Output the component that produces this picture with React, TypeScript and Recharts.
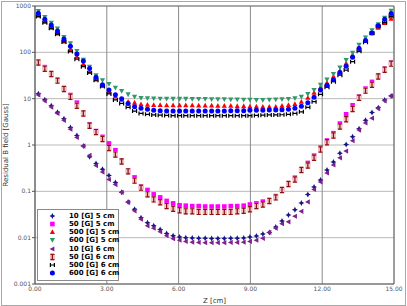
import React from "react";
import {
  CartesianGrid,
  Legend,
  ReferenceLine,
  Scatter,
  ScatterChart,
  XAxis,
  YAxis
} from "recharts";

// measurement positions along the shield axis [cm]
const Z_CM = [
  0.14, 0.41, 0.68, 0.94, 1.21, 1.48, 1.75, 2.02, 2.28, 2.55,
  2.82, 3.09, 3.36, 3.62, 3.89, 4.16, 4.43, 4.7, 4.96, 5.23,
  5.5, 5.77, 6.04, 6.3, 6.57, 6.84, 7.11, 7.38, 7.64, 7.91,
  8.18, 8.45, 8.72, 8.98, 9.25, 9.52, 9.79, 10.06, 10.32, 10.59,
  10.86, 11.13, 11.4, 11.66, 11.93, 12.2, 12.47, 12.74, 13.0, 13.27,
  13.54, 13.81, 14.08, 14.34, 14.61, 14.88
];

// residual field [Gauss]
const B_10G_5CM = [
  12.8, 9.5, 7.0, 5.1, 3.7, 2.4, 1.6, 0.95, 0.56, 0.4,
  0.3, 0.22, 0.156, 0.096, 0.059, 0.041, 0.027, 0.021, 0.018, 0.015,
  0.0123, 0.011, 0.0103, 0.0099, 0.0098, 0.0097, 0.0097, 0.0096, 0.0096, 0.0096,
  0.0097, 0.0097, 0.0098, 0.0103, 0.0108, 0.012, 0.013, 0.017, 0.023, 0.031,
  0.04, 0.056, 0.085, 0.124, 0.175, 0.29, 0.43, 0.66, 1.03, 1.5,
  2.25, 3.4, 5.0, 6.4, 9.4, 11.4
];
const B_50G_5CM = [
  63, 48, 35, 25, 16.7, 12, 8.2, 4.8, 2.8, 2.0,
  1.5, 1.08, 0.77, 0.46, 0.28, 0.2, 0.126, 0.107, 0.086, 0.074,
  0.062, 0.055, 0.05, 0.049, 0.048, 0.048, 0.047, 0.047, 0.047, 0.047,
  0.048, 0.048, 0.049, 0.052, 0.055, 0.06, 0.064, 0.079, 0.11, 0.149,
  0.197, 0.275, 0.41, 0.59, 0.88, 1.25, 1.8, 2.9, 4.6, 7.2,
  11, 16.5, 23, 32, 44, 60
];
const B_500G_5CM = [
  620, 460, 340, 255, 172, 118, 80, 56, 38, 26,
  19, 14, 11.2, 9.5, 8.6, 8.2, 7.6, 7.4, 7.3, 7.3,
  7.2, 7.2, 7.2, 7.2, 7.2, 7.1, 7.1, 7.1, 7.0, 7.0,
  7.0, 6.9, 6.9, 6.8, 6.8, 6.7, 6.7, 6.7, 7.0, 7.3,
  7.7, 8.6, 10.5, 13.5, 17.6, 22, 30, 40, 58, 88,
  132, 190, 265, 340, 430, 530
];
const B_600G_5CM = [
  783, 580, 435, 325, 214, 157, 107, 69, 49, 32,
  25, 20.8, 17.3, 14.7, 12.4, 11.0, 10.4, 10.2, 10.1, 10.0,
  10.0, 9.9, 9.9, 9.9, 9.8, 9.8, 9.8, 9.7, 9.7, 9.7,
  9.6, 9.6, 9.5, 9.5, 9.4, 9.4, 9.5, 9.6, 9.7, 9.8,
  10.2, 11.0, 12.6, 15.4, 20, 26, 34, 47, 68, 98,
  146, 210, 300, 405, 560, 790
];
const B_10G_6CM = [
  12, 9.0, 6.6, 4.8, 3.4, 2.2, 1.45, 0.95, 0.6, 0.36,
  0.26, 0.18, 0.14, 0.095, 0.058, 0.038, 0.025, 0.018, 0.016, 0.0135,
  0.011, 0.0095, 0.0088, 0.0083, 0.008, 0.0079, 0.0078, 0.0078, 0.0078, 0.0078,
  0.0079, 0.0079, 0.008, 0.0083, 0.0088, 0.0097, 0.013, 0.016, 0.02, 0.022,
  0.029, 0.037, 0.059, 0.11, 0.16, 0.25, 0.37, 0.53, 0.74, 1.24,
  2.1, 3.0, 3.8, 6.1, 9.0, 11.5
];
const B_50G_6CM = [
  60, 44, 34, 24.5, 16.2, 11, 7.0, 4.8, 2.6, 1.9,
  1.35, 0.86, 0.62, 0.44, 0.27, 0.17, 0.12, 0.086, 0.067, 0.058,
  0.048, 0.042, 0.039, 0.037, 0.037, 0.036, 0.036, 0.036, 0.036, 0.036,
  0.036, 0.037, 0.038, 0.041, 0.048, 0.052, 0.062, 0.074, 0.107, 0.144,
  0.18, 0.29, 0.36, 0.53, 0.8, 1.15, 1.6, 2.5, 3.6, 6.0,
  10.5, 14.9, 20, 30, 42, 57
];
const B_500G_6CM = [
  590, 435, 330, 246, 168, 104, 71, 49, 36, 25,
  18.2, 12.6, 9.4, 7.9, 6.5, 5.4, 4.8, 4.6, 4.45, 4.4,
  4.35, 4.3, 4.3, 4.3, 4.3, 4.3, 4.3, 4.3, 4.3, 4.3,
  4.3, 4.3, 4.3, 4.3, 4.35, 4.4, 4.45, 4.45, 4.5, 4.6,
  4.8, 5.2, 6.5, 8.6, 12.4, 17.6, 23.3, 32, 41.5, 63,
  105, 165, 258, 360, 440, 590
];
const B_600G_6CM = [
  700, 519, 390, 290, 195, 135, 92, 65, 45, 29,
  20, 15.4, 12.2, 10.0, 7.9, 6.7, 6.2, 5.9, 5.6, 5.5,
  5.4, 5.4, 5.4, 5.4, 5.4, 5.4, 5.4, 5.4, 5.4, 5.4,
  5.5, 5.5, 5.5, 5.6, 5.6, 5.6, 5.7, 5.7, 5.8, 5.9,
  6.2, 6.9, 8.2, 10.7, 15.4, 19.5, 25.5, 36.5, 50, 78,
  121, 180, 260, 375, 519, 690
];

const X_TICKS = [0, 3, 6, 9, 12, 15];
const Y_TICKS = [0.001, 0.01, 0.1, 1, 10, 100, 1000];
const Y_MINOR = Y_TICKS.slice(0, -1).flatMap((d) =>
  [2, 3, 4, 5, 6, 7, 8, 9].map((m) => Number((d * m).toPrecision(2)))
);

type MarkerKind = "star" | "square" | "triUp" | "triDown" | "triLeft" | "ibeam" | "hbar" | "circle";

const SERIES: { name: string; values: number[]; color: string; marker: MarkerKind }[] = [
  { name: "10 [G] 5 cm", values: B_10G_5CM, color: "#16168a", marker: "star" },
  { name: "50 [G] 5 cm", values: B_50G_5CM, color: "#ff00ff", marker: "square" },
  { name: "500 [G] 5 cm", values: B_500G_5CM, color: "#ff0000", marker: "triUp" },
  { name: "600 [G] 5 cm", values: B_600G_5CM, color: "#2e9a6c", marker: "triDown" },
  { name: "10 [G] 6 cm", values: B_10G_6CM, color: "#80208c", marker: "triLeft" },
  { name: "50 [G] 6 cm", values: B_50G_6CM, color: "#8b1010", marker: "ibeam" },
  { name: "500 [G] 6 cm", values: B_500G_6CM, color: "#000000", marker: "hbar" },
  { name: "600 [G] 6 cm", values: B_600G_6CM, color: "#0000ff", marker: "circle" }
];

function Marker({ kind, cx, cy, color }: { kind: MarkerKind; cx: number; cy: number; color: string }) {
  if (cx == null || cy == null) return null;
  switch (kind) {
    case "star":
      return (
        <path
          d={`M${cx},${cy - 3}L${cx + 1},${cy - 1}L${cx + 3},${cy}L${cx + 1},${cy + 1}L${cx},${cy + 3}L${cx - 1},${cy + 1}L${cx - 3},${cy}L${cx - 1},${cy - 1}Z`}
          fill={color}
        />
      );
    case "square":
      return <rect x={cx - 2.3} y={cy - 2.3} width={4.6} height={4.6} fill={color} />;
    case "triUp":
      return <path d={`M${cx},${cy - 2.8}L${cx + 2.6},${cy + 2}L${cx - 2.6},${cy + 2}Z`} fill={color} />;
    case "triDown":
      return <path d={`M${cx},${cy + 2.8}L${cx + 2.6},${cy - 2}L${cx - 2.6},${cy - 2}Z`} fill={color} />;
    case "triLeft":
      return <path d={`M${cx - 2.8},${cy}L${cx + 2},${cy - 2.6}L${cx + 2},${cy + 2.6}Z`} fill={color} />;
    case "ibeam":
      return (
        <g>
          <rect x={cx - 2.6} y={cy - 3.2} width={5.2} height={6.4} fill="#f0c2c2" />
          <path
            d={`M${cx - 2},${cy - 2.6}H${cx + 2}M${cx},${cy - 2.6}V${cy + 2.6}M${cx - 2},${cy + 2.6}H${cx + 2}`}
            stroke={color}
            strokeWidth={1.2}
            fill="none"
          />
        </g>
      );
    case "hbar":
      return (
        <path
          d={`M${cx - 2},${cy - 2}V${cy + 2}M${cx + 2},${cy - 2}V${cy + 2}M${cx - 2},${cy}H${cx + 2}`}
          stroke={color}
          strokeWidth={1.2}
          fill="none"
        />
      );
    default:
      return <circle cx={cx} cy={cy} r={2.5} fill={color} />;
  }
}

function YTitle(props: any) {
  const vb = props.viewBox || { x: 0, y: 6, width: 35, height: 278 };
  const cy = vb.y + vb.height / 2;
  return (
    <text
      x={6}
      y={cy}
      transform={`rotate(-90, 6, ${cy})`}
      textAnchor="middle"
      dominantBaseline="central"
      fontSize={7}
      fill="#333"
    >
      Residual B field [Gauss]
    </text>
  );
}

function LegendBox() {
  return (
    <div
      style={{
        width: 82,
        height: 72,
        boxSizing: "border-box",
        border: "1px solid #8a8a8a",
        background: "#fff",
        paddingTop: 2
      }}
    >
      {SERIES.map((s) => (
        <div
          key={s.name}
          style={{
            display: "flex",
            alignItems: "center",
            height: 8.15,
            fontFamily: "DejaVu Sans",
            fontWeight: "bold",
            fontSize: 7,
            color: "#000",
            whiteSpace: "nowrap"
          }}
        >
          <svg width={31} height={8} style={{ display: "block", flex: "none" }}>
            <Marker kind={s.marker} cx={14.4} cy={4} color={s.color} />
          </svg>
          <span>{s.name}</span>
        </div>
      ))}
    </div>
  );
}

export default function App() {
  return (
    <div style={{ position: "fixed", left: 0, top: 0, width: 407, height: 306, background: "#fff" }}>
      <ScatterChart
        width={407}
        height={306}
        margin={{ top: 6, right: 13, bottom: 0, left: 0 }}
        style={{ fontFamily: "DejaVu Sans" }}
      >
        <CartesianGrid horizontalValues={[...Y_MINOR, ...Y_TICKS]} vertical={false} stroke="#b9b9b9" />
        <CartesianGrid horizontal={false} verticalValues={X_TICKS} stroke="#8a8a8a" />
        <XAxis
          type="number"
          dataKey="z"
          domain={[0, 15]}
          ticks={X_TICKS}
          tickFormatter={(v: number) => v.toFixed(2)}
          height={22}
          tickSize={0}
          tickMargin={3}
          axisLine={{ stroke: "#555" }}
          tick={{ fontSize: 6, fill: "#555" }}
          label={{ value: "Z [cm]", position: "insideBottom", offset: 3, fontSize: 7, fill: "#333" }}
        />
        <YAxis
          type="number"
          dataKey="b"
          scale="log"
          domain={[0.001, 1000]}
          allowDataOverflow
          ticks={Y_TICKS}
          tickFormatter={(v: number) => String(v)}
          width={35}
          tickSize={3}
          tickMargin={1}
          axisLine={{ stroke: "#555" }}
          tickLine={{ stroke: "#555" }}
          tick={{ fontSize: 6, fill: "#555" }}
          label={<YTitle />}
        />
        <ReferenceLine y={1000} stroke="#777" />
        <ReferenceLine x={15} stroke="#777" />
        {SERIES.map((s) => (
          <Scatter
            key={s.name}
            name={s.name}
            data={Z_CM.map((z, i) => ({ z, b: s.values[i] }))}
            fill={s.color}
            isAnimationActive={false}
            shape={(p: any) => <Marker kind={s.marker} cx={p.cx} cy={p.cy} color={s.color} />}
          />
        ))}
        <Legend
          layout="vertical"
          align="center"
          verticalAlign="middle"
          content={() => <LegendBox />}
          wrapperStyle={{ left: 37, top: 209, width: 82, height: 72 }}
        />
      </ScatterChart>
      <div
        style={{
          position: "absolute",
          left: 1,
          top: 1,
          width: 405,
          height: 305,
          boxSizing: "border-box",
          border: "1px solid #a8a8a8",
          pointerEvents: "none"
        }}
      />
    </div>
  );
}
